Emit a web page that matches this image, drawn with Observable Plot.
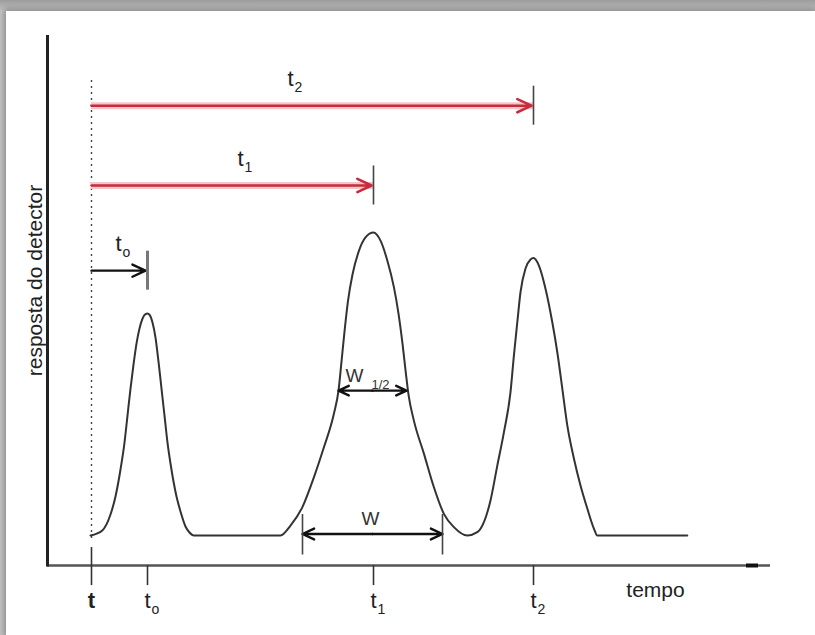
<!DOCTYPE html>
<html><head><meta charset="utf-8">
<script src="https://cdn.jsdelivr.net/npm/d3@7"></script>
<script src="https://cdn.jsdelivr.net/npm/@observablehq/plot@0.6"></script>
<style>
html,body{margin:0;padding:0;}
body{width:815px;height:635px;overflow:hidden;background:#fff;}
#frame{position:relative;width:815px;height:635px;background:linear-gradient(#9c9c9c,#c4c4c4 11px,#c4c4c4);}
#paper{position:absolute;left:6px;top:11px;right:0;bottom:0;background:#fff;box-shadow:0 0 6px 2px rgba(0,0,0,0.30);}
#chart{position:absolute;left:0;top:0;}
</style></head>
<body><div id="frame"><div id="paper"></div><div id="chart"></div></div>
<script>
// ---- data (time in arbitrary units, response in arbitrary units) ----
const signalTime = [-0.5, 5.4, 9.5, 12, 14.5, 16.5, 18, 19.5, 21, 22.5, 24, 25.5, 27, 28, 29, 30.5, 32, 33.5, 35, 36.5, 38, 39.5, 41, 42.5, 44.5, 47, 49, 51.2,
  94.5, 99.5, 105.4, 111.2, 116.2, 121.2, 123.5, 125, 126.5, 128.2, 130.5, 133.5, 137, 141, 144.5, 147.9, 151.2, 153.5, 155.5, 157.2, 158.5, 161.2, 166.2, 171.2, 176.2, 181.2, 187.9,
  192.9, 199.5, 202.9, 206.2, 209.5, 211.2, 212.9, 214.5, 217, 219.5, 221, 223.7, 227, 230.4, 232.9, 235.4, 237.9, 241.2, 244.5, 247.9, 251.2, 252.9, 297.9];
const signalResponse = [0, 1.7, 7, 13, 22, 31, 40, 49, 57, 64, 69, 72.3, 73.8, 74, 73.6, 71, 66, 58, 49, 40, 31, 24, 18, 13, 8, 3, 1, 0,
  0, 3.3, 9.4, 19.4, 29.4, 40.6, 48.3, 58, 68, 78, 87, 94.5, 99.4, 101, 98.3, 91.7, 82.8, 74, 64, 54, 47, 38.3, 27.3, 16.1, 7.2, 2.8, 0,
  1.1, 11.7, 23.3, 34.4, 47.8, 60, 71.1, 81.1, 89, 92, 92.5, 90, 82.3, 71.1, 61.1, 49, 36.7, 25.7, 16.7, 9, 2.3, 0, 0];

const retentionSubs = ["2", "1", "o"];
const retentionTimes = [221, 141, 28];
const retentionLevels = [143.3, 116.7, 88.3];

const axisTickTimes = [0, 28, 141, 221];
const axisTickSubs = ["", "o", "1", "2"];

const halfWidthEdges = [123.5, 157.5];
const halfWidthLevel = 48.3;
const baseWidthEdges = [105.5, 175.5];
const baseWidthLevel = 0.5;

const timeDomain = [-22, 339.5];
const responseDomain = [-10, 166.7];

// ---- tables ----
const signal = signalTime.map((t, i) => ({t, r: signalResponse[i]}));
const retention = retentionTimes.map((t, i) => ({t, r: retentionLevels[i], sub: retentionSubs[i]}));
const redRet = retention.filter(d => d.sub !== "o");
const blackRet = retention.filter(d => d.sub === "o");
const axisTicks = axisTickTimes.map((t, i) => ({t, sub: axisTickSubs[i]}));
const injectionTick = axisTicks.filter(d => d.t === 0);
const peakTicks = axisTicks.filter(d => d.t !== 0);
const font = "'Liberation Sans', Arial, sans-serif";
const labelOffsets = {"2": -22, "1": 8, "o": -1};

const hwMid = (halfWidthEdges[0] + halfWidthEdges[1]) / 2;
const bwMid = (baseWidthEdges[0] + baseWidthEdges[1]) / 2;

const marks = [
  // axes
  Plot.ruleY([responseDomain[0]], {x1: timeDomain[0], x2: timeDomain[1], stroke: "#555", strokeWidth: 2.5}),
  Plot.ruleY([responseDomain[0]], {x1: timeDomain[1] - 12, x2: timeDomain[1] - 6, stroke: "#111", strokeWidth: 4}),
  Plot.ruleX([timeDomain[0]], {y1: responseDomain[0] - 0.5, y2: responseDomain[1], stroke: "#222", strokeWidth: 3}),
  // injection dotted line
  Plot.ruleX([0], {y1: -1, y2: 151.7, stroke: "#444", strokeWidth: 1.4, strokeDasharray: "2,4"}),
  // axis ticks
  Plot.ruleX(injectionTick, {x: "t", y1: -4, y2: -16.7, stroke: "#333", strokeWidth: 1.6}),
  Plot.ruleX(peakTicks, {x: "t", y1: -10, y2: -16.7, stroke: "#333", strokeWidth: 1.6}),
  Plot.text(injectionTick, {x: "t", y: -21.8, text: () => "t", fontSize: 22, fontWeight: "bold", fill: "#222", fontFamily: font, textAnchor: "middle", lineAnchor: "middle"}),
  Plot.text(peakTicks, {x: "t", y: -21.8, text: () => "t", fontSize: 22, fill: "#222", fontFamily: font, textAnchor: "middle", lineAnchor: "middle"}),
  Plot.text(peakTicks, {x: "t", y: -21.8, text: "sub", dx: 8, dy: 9, fontSize: 14, fill: "#222", fontFamily: font, textAnchor: "middle", lineAnchor: "middle"}),
  Plot.text(["tempo"], {x: 282, y: -18.3, text: d => d, fontSize: 21, fill: "#222", fontFamily: font, textAnchor: "middle", lineAnchor: "middle"}),
  Plot.text(["resposta do detector"], {x: timeDomain[0], y: 85, dx: -12, text: d => d, rotate: -90, fontSize: 21, fill: "#222", fontFamily: font, textAnchor: "middle", lineAnchor: "middle"}),
  // signal
  Plot.line(signal, {x: "t", y: "r", curve: "monotone-x", stroke: "#333", strokeWidth: 2}),
  // retention arrows
  Plot.ruleY(redRet, {x1: 0, x2: "t", y: "r", stroke: "#f3c6cb", strokeWidth: 7}),
  Plot.arrow(redRet, {x1: 0, x2: d => d.t - 1, y1: "r", y2: "r", stroke: "#c62c3c", strokeWidth: 2.6, headLength: 9, headAngle: 50}),
  Plot.arrow(blackRet, {x1: 0, x2: d => d.t - 1, y1: "r", y2: "r", stroke: "#111", strokeWidth: 2.4, headLength: 9, headAngle: 50}),
  Plot.ruleX(redRet, {x: "t", y1: d => d.r - 6.5, y2: d => d.r + 6.5, stroke: "#444", strokeWidth: 1.6}),
  Plot.ruleX(blackRet, {x: "t", y1: d => d.r - 6.5, y2: d => d.r + 6.5, stroke: "#777", strokeWidth: 3}),
  ...retention.map(d => Plot.text([d], {x: d => d.t / 2, y: d => d.r + 9, dx: labelOffsets[d.sub], text: () => "t", fontSize: 22, fill: "#222", fontFamily: font, textAnchor: "middle", lineAnchor: "middle"})),
  ...retention.map(d => Plot.text([d], {x: d => d.t / 2, y: d => d.r + 9, dx: labelOffsets[d.sub] + 8, dy: 9, text: "sub", fontSize: 14, fill: "#222", fontFamily: font, textAnchor: "middle", lineAnchor: "middle"})),
  // half-width arrows
  Plot.arrow(halfWidthEdges, {x1: hwMid, x2: d => d, y1: halfWidthLevel, y2: halfWidthLevel, stroke: "#111", strokeWidth: 2.4, headLength: 8, headAngle: 50}),
  Plot.text(["W"], {x: hwMid - 9, y: halfWidthLevel + 5, text: d => d, fontSize: 19, fill: "#333", fontFamily: font, textAnchor: "middle", lineAnchor: "middle"}),
  Plot.text(["1/2"], {x: hwMid + 4, y: halfWidthLevel + 2, text: d => d, fontSize: 13, fill: "#333", fontFamily: font, textAnchor: "middle", lineAnchor: "middle"}),
  // base-width arrows
  Plot.arrow(baseWidthEdges, {x1: bwMid, x2: d => d, y1: baseWidthLevel, y2: baseWidthLevel, stroke: "#111", strokeWidth: 2.4, headLength: 8, headAngle: 50}),
  Plot.ruleX(baseWidthEdges, {y1: -6.5, y2: 7, stroke: "#444", strokeWidth: 1.6}),
  Plot.text(["W"], {x: bwMid - 1, y: 5.7, text: d => d, fontSize: 19, fill: "#333", fontFamily: font, textAnchor: "middle", lineAnchor: "middle"})
];

const chart = Plot.plot({
  width: 815, height: 635,
  marginLeft: 47, marginRight: 45, marginTop: 35, marginBottom: 70,
  x: {domain: timeDomain, axis: null},
  y: {domain: responseDomain, axis: null},
  style: {background: "transparent", overflow: "visible"},
  marks
});
document.getElementById("chart").appendChild(chart);
</script>
</body></html>
